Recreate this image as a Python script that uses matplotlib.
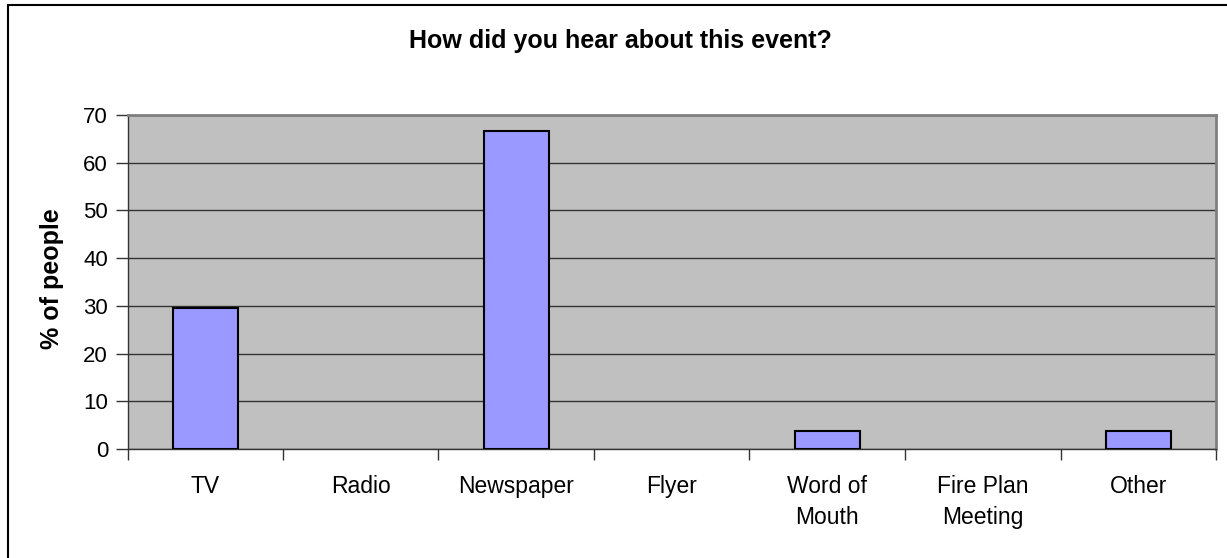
import matplotlib
matplotlib.use("Agg")
import matplotlib.pyplot as plt
from matplotlib.patches import Rectangle
from matplotlib.ticker import FixedLocator

plt.rcParams['font.family'] = ['Liberation Sans', 'DejaVu Sans']

# survey answers
categories = ["TV", "Radio", "Newspaper", "Flyer", "Word of\nMouth",
              "Fire Plan\nMeeting", "Other"]
percent = [29.6, 0, 66.7, 0, 3.7, 0, 3.7]
yticks = [0, 10, 20, 30, 40, 50, 60, 70]

W, H = 1227, 558
fig = plt.figure(figsize=(W / 100, H / 100), dpi=100)

# chart frame (runs off the right/bottom edge)
fig.patches.append(Rectangle((7.5 / W, -0.1), 1.2, 1.1 - 5.5 / H,
                             transform=fig.transFigure, fill=False,
                             edgecolor='black', linewidth=1.5))

left, right, top, bottom = 127.5, 1216, 115, 449
ax = fig.add_axes([left / W, 1 - bottom / H, (right - left) / W, (bottom - top) / H])
ax.set_facecolor('#C0C0C0')

x = range(len(categories))
# empty categories get no outline
edges = ['black' if v > 0 else 'none' for v in percent]
ax.bar(x, percent, width=0.42, color='#9999FF', edgecolor=edges,
       linewidth=1.5, zorder=3)

ax.set_xlim(-0.5, len(categories) - 0.5)
ax.set_ylim(0, 70)
ax.set_yticks(yticks)
ax.yaxis.grid(True, color='#333333', linewidth=1.0, zorder=1)
ax.set_axisbelow(True)

# category boundaries get the tick marks, centres get the labels
ax.xaxis.set_major_locator(FixedLocator([i - 0.5 for i in range(len(categories) + 1)]))
ax.xaxis.set_minor_locator(FixedLocator(list(x)))
ax.set_xticklabels([])
ax.set_xticklabels(categories, minor=True, fontsize=16.5, linespacing=1.4, va='top')
ax.tick_params(axis='x', which='major', length=8, width=1, color='#333333', direction='out')
ax.tick_params(axis='x', which='minor', length=0, pad=19)
ax.tick_params(axis='y', length=9, width=1, color='#333333', labelsize=16, pad=5)

for s in ['top', 'right']:
    ax.spines[s].set_color('#808080')
    ax.spines[s].set_linewidth(2)
for s in ['left', 'bottom']:
    ax.spines[s].set_color('#333333')
    ax.spines[s].set_linewidth(1)

fig.text(620 / W, 1 - 48 / H, "How did you hear about this event?",
         ha='center', va='baseline', fontsize=18, fontweight='bold')
fig.text(52 / W, 1 - 279 / H, "% of people", ha='center', va='center',
         rotation=90, fontsize=18, fontweight='bold')

fig.savefig("out.png", dpi=100, facecolor='white')
